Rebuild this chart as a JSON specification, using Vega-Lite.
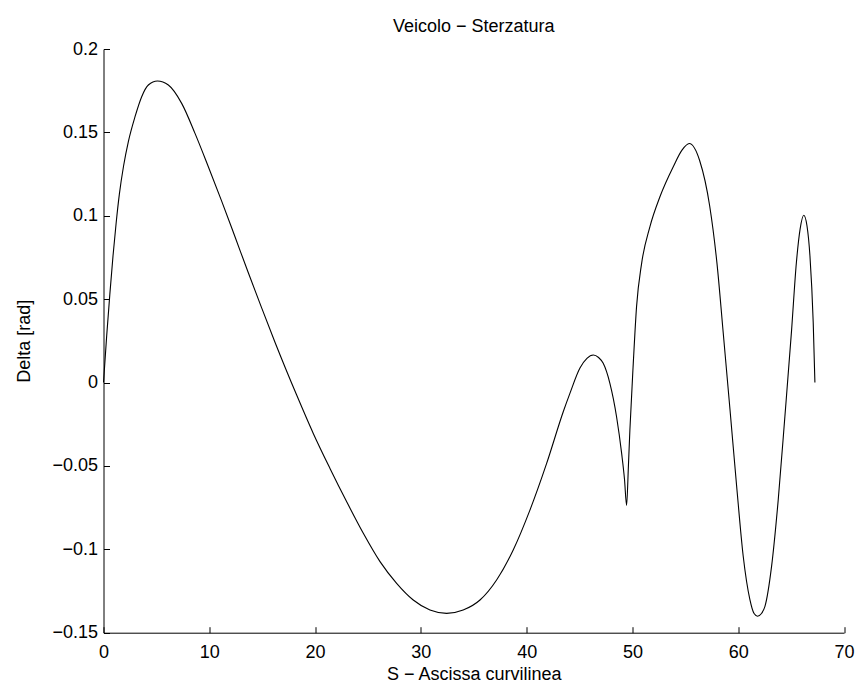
{
  "$schema": "https://vega.github.io/schema/vega-lite/v6.json",
  "width": 740.5,
  "height": 583.7,
  "autosize": {"type": "none"},
  "padding": {"left": 103.5, "top": 49, "right": 14, "bottom": 53.3},
  "background": "white",
  "title": {"text": "Veicolo − Sterzatura", "font": "Liberation Sans", "fontSize": 18, "fontWeight": "normal", "color": "black", "anchor": "middle", "offset": 4},
  "config": {"view": {"stroke": null}},
  "data": {"values": [
    {"s": 0, "delta": 0},
    {"s": 0.3, "delta": 0.028},
    {"s": 0.6, "delta": 0.053},
    {"s": 0.9, "delta": 0.076},
    {"s": 1.2, "delta": 0.096},
    {"s": 1.5, "delta": 0.113},
    {"s": 1.9, "delta": 0.13},
    {"s": 2.35, "delta": 0.1445},
    {"s": 2.98, "delta": 0.1594},
    {"s": 3.61, "delta": 0.1714},
    {"s": 4.24, "delta": 0.1784},
    {"s": 5.1, "delta": 0.1808},
    {"s": 6.13, "delta": 0.1784},
    {"s": 7.39, "delta": 0.1674},
    {"s": 8.65, "delta": 0.1494},
    {"s": 9.91, "delta": 0.1294},
    {"s": 11.17, "delta": 0.1088},
    {"s": 12.43, "delta": 0.0874},
    {"s": 13.69, "delta": 0.0658},
    {"s": 14.95, "delta": 0.0448},
    {"s": 16.21, "delta": 0.0242},
    {"s": 18.26, "delta": -0.0075},
    {"s": 19.83, "delta": -0.0305},
    {"s": 21.41, "delta": -0.0515},
    {"s": 22.99, "delta": -0.0715},
    {"s": 24.56, "delta": -0.0904},
    {"s": 26.14, "delta": -0.1074},
    {"s": 27.71, "delta": -0.1204},
    {"s": 29.28, "delta": -0.1304},
    {"s": 30.86, "delta": -0.1364},
    {"s": 32.44, "delta": -0.1384},
    {"s": 34.0, "delta": -0.1364},
    {"s": 35.59, "delta": -0.1304},
    {"s": 37.16, "delta": -0.1184},
    {"s": 38.73, "delta": -0.1004},
    {"s": 40.31, "delta": -0.0765},
    {"s": 41.89, "delta": -0.0485},
    {"s": 43.46, "delta": -0.0175},
    {"s": 44.09, "delta": -0.0065},
    {"s": 45.04, "delta": 0.0087},
    {"s": 45.7, "delta": 0.0145},
    {"s": 46.3, "delta": 0.0165},
    {"s": 46.8, "delta": 0.015},
    {"s": 47.24, "delta": 0.0115},
    {"s": 47.87, "delta": -0.0005},
    {"s": 48.5, "delta": -0.0205},
    {"s": 48.98, "delta": -0.0425},
    {"s": 49.25, "delta": -0.058},
    {"s": 49.45, "delta": -0.0737},
    {"s": 49.62, "delta": -0.05},
    {"s": 49.76, "delta": -0.0285},
    {"s": 50.08, "delta": 0.0115},
    {"s": 50.39, "delta": 0.0455},
    {"s": 50.87, "delta": 0.0715},
    {"s": 51.65, "delta": 0.0934},
    {"s": 52.6, "delta": 0.1114},
    {"s": 53.86, "delta": 0.1294},
    {"s": 54.7, "delta": 0.1395},
    {"s": 55.37, "delta": 0.1433},
    {"s": 56.36, "delta": 0.133},
    {"s": 57.3, "delta": 0.106},
    {"s": 58.0, "delta": 0.071},
    {"s": 58.58, "delta": 0.03},
    {"s": 59.22, "delta": -0.016},
    {"s": 59.85, "delta": -0.062},
    {"s": 60.47, "delta": -0.104},
    {"s": 61.1, "delta": -0.13},
    {"s": 61.5, "delta": -0.1385},
    {"s": 61.83, "delta": -0.1401},
    {"s": 62.2, "delta": -0.1385},
    {"s": 62.52, "delta": -0.1344},
    {"s": 63.15, "delta": -0.1104},
    {"s": 63.78, "delta": -0.0705},
    {"s": 64.41, "delta": -0.0205},
    {"s": 65.04, "delta": 0.031},
    {"s": 65.5, "delta": 0.072},
    {"s": 65.85, "delta": 0.092},
    {"s": 66.2, "delta": 0.1003},
    {"s": 66.5, "delta": 0.094},
    {"s": 66.78, "delta": 0.076},
    {"s": 67.09, "delta": 0.036},
    {"s": 67.25, "delta": 0.0}
  ]},
  "mark": {"type": "line", "color": "black", "strokeWidth": 1.1, "interpolate": "monotone"},
  "encoding": {
    "x": {
      "field": "s", "type": "quantitative",
      "scale": {"domain": [0, 70], "nice": false, "zero": false},
      "axis": {
        "title": "S − Ascissa curvilinea",
        "values": [0, 10, 20, 30, 40, 50, 60, 70],
        "format": "d",
        "grid": false,
        "domainColor": "black", "domainWidth": 1,
        "tickColor": "black", "tickWidth": 1, "tickSize": -6,
        "labelFont": "Liberation Sans", "labelFontSize": 18, "labelColor": "black", "labelPadding": 17,
        "labelFlush": false,
        "titleFont": "Liberation Sans", "titleFontSize": 18, "titleFontWeight": "normal", "titleColor": "black", "titlePadding": 4
      }
    },
    "y": {
      "field": "delta", "type": "quantitative",
      "scale": {"domain": [-0.15, 0.2], "nice": false, "zero": false},
      "axis": {
        "title": "Delta [rad]",
        "values": [-0.15, -0.1, -0.05, 0, 0.05, 0.1, 0.15, 0.2],
        "format": ".2~f",
        "grid": false,
        "domainColor": "black", "domainWidth": 1,
        "tickColor": "black", "tickWidth": 1, "tickSize": -6,
        "labelFont": "Liberation Sans", "labelFontSize": 18, "labelColor": "black", "labelPadding": 12,
        "labelFlush": false,
        "titleFont": "Liberation Sans", "titleFontSize": 18, "titleFontWeight": "normal", "titleColor": "black", "titlePadding": 18
      }
    }
  }
}
